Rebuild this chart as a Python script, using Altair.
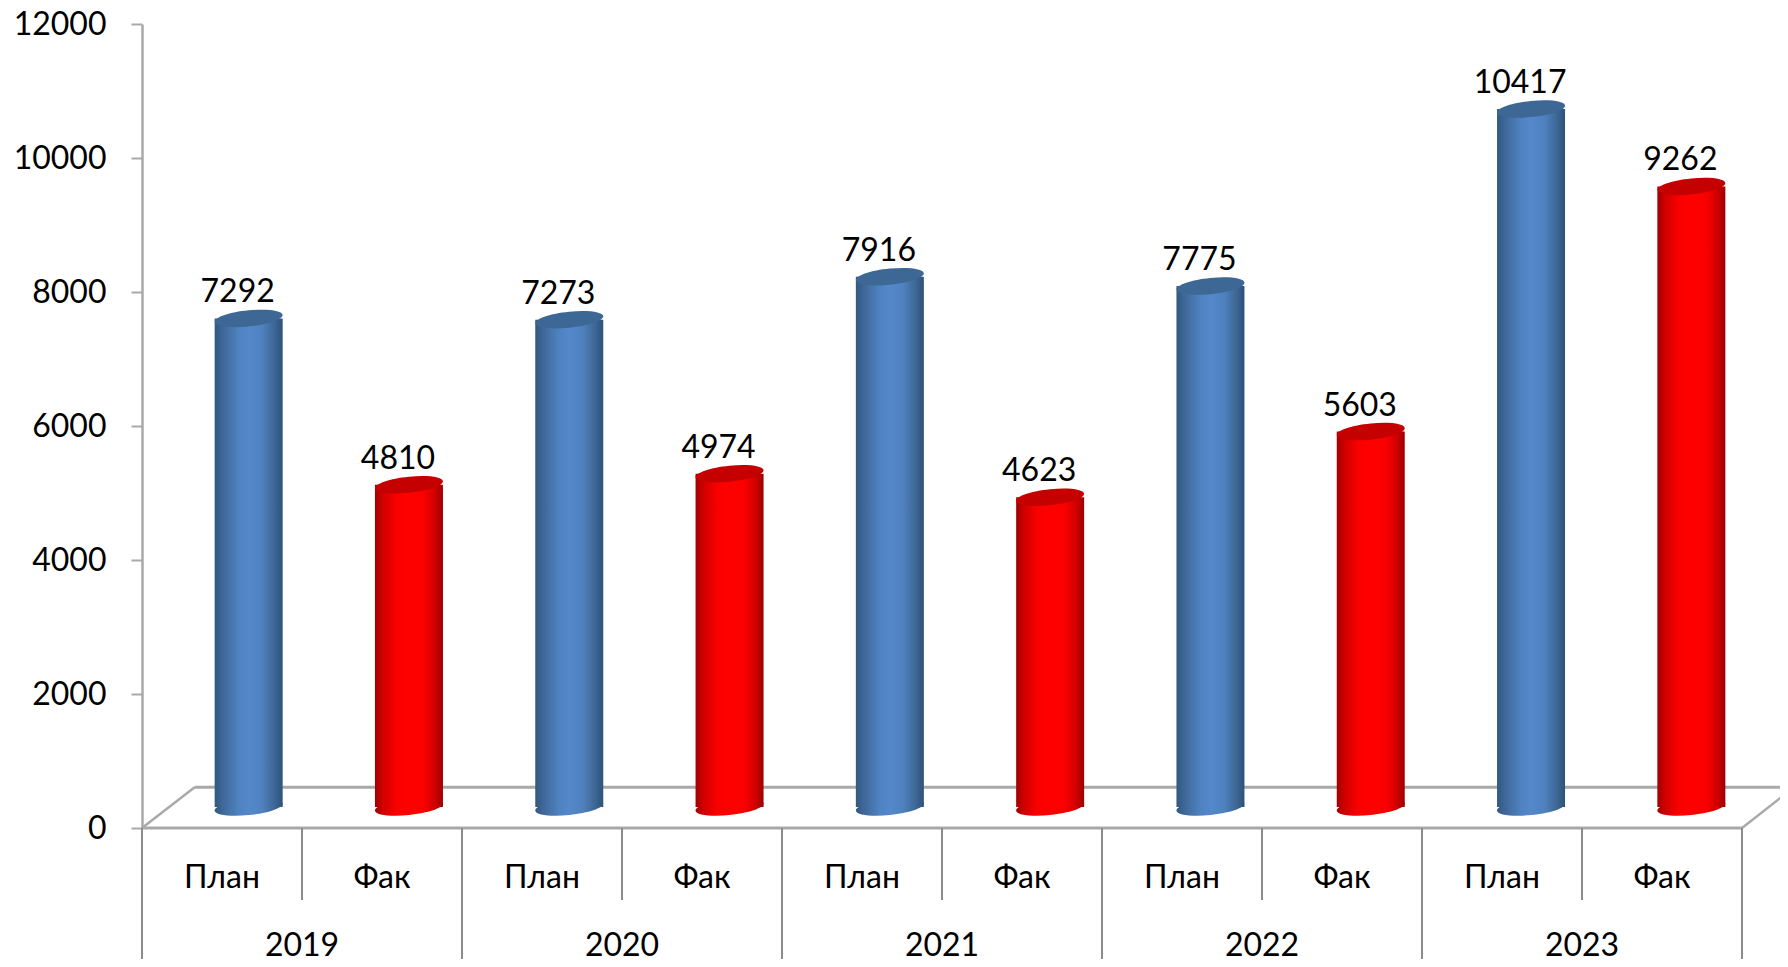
import altair as alt
import pandas as pd

years = ["2019", "2020", "2021", "2022", "2023"]
plan = [7292, 7273, 7916, 7775, 10417]
fact = [4810, 4974, 4623, 5603, 9262]
series_names = ["План", "Фак"]
y_ticks = [0, 2000, 4000, 6000, 8000, 10000, 12000]

FONT = "Lato"
FS = 32
AXIS_GREY = "#a9a9a9"
SEP_GREY = "#8c8c8c"
FLOOR_LIFT = -21      # bars stand on the perspective floor, above the axis line
LABEL_LIFT = -47
ELLIPSE = "M-1,0.1 A1,0.235 -6 1 1 1,-0.1 A1,0.235 -6 1 1 -1,0.1 Z"
BAR_W = 68

rows = []
for i, yr in enumerate(years):
    for j, (name, v) in enumerate(zip(series_names, (plan[i], fact[i]))):
        rows.append({"key": f"{yr}-{name}", "year": yr, "series": name, "value": v,
                     "slot": 2 * i + j + 0.5})
df = pd.DataFrame(rows)
keys = df["key"].tolist()

y_scale = alt.Scale(domain=[0, 12000], range=[804, 0], nice=False, zero=True)
bar_x = alt.X("key:N", sort=keys, axis=None,
              scale=alt.Scale(domain=keys, range=[26.5, 1629.5], paddingInner=0, paddingOuter=0))
slot_scale = alt.Scale(domain=[0, 10], range=[0, 1600], nice=False, zero=False)


def grad(stops):
    return alt.Gradient(gradient="linear", x1=0, x2=1, y1=0, y2=0,
                        stops=[alt.GradientStop(offset=o, color=c) for o, c in stops])


BLUE = grad([(0, "#32587f"), (0.12, "#3f6899"), (0.35, "#4f82c0"), (0.5, "#5388cb"),
             (0.7, "#4f81bf"), (0.88, "#3d6794"), (1, "#2e5179")])
RED = grad([(0, "#a00000"), (0.12, "#d20000"), (0.32, "#fa0000"), (0.5, "#ff0000"),
            (0.72, "#fa0000"), (0.88, "#d00000"), (1, "#9c0000")])

y_enc = alt.Y("value:Q", scale=y_scale, title=None,
              axis=alt.Axis(values=y_ticks, format="d", grid=False, domain=True, domainColor=AXIS_GREY,
                            domainWidth=2.5, ticks=True, tickColor=AXIS_GREY, tickWidth=2, tickSize=11,
                            labelFont=FONT, labelFontSize=FS, labelColor="#000000", labelPadding=25,
                            labelOverlap=False, labelFlush=False))
y_plain = alt.Y("value:Q", scale=y_scale, axis=None)

# perspective floor: back edge and two slanted sides, then the front edge
floor = [
    alt.Chart(pd.DataFrame({"v": [610]})).mark_rule(color=AXIS_GREY, strokeWidth=3).encode(
        x=alt.value(53), x2=alt.value(1646), y=alt.Y("v:Q", scale=y_scale, axis=None)),
    alt.Chart(pd.DataFrame({"v": [0]})).mark_rule(color=AXIS_GREY, strokeWidth=3).encode(
        x=alt.value(0), x2=alt.value(1600), y=alt.Y("v:Q", scale=y_scale, axis=None)),
    alt.Chart(pd.DataFrame({"a": [0]})).mark_rule(color=AXIS_GREY, strokeWidth=2.5).encode(
        x=alt.value(0), x2=alt.value(53), y=alt.value(804), y2=alt.value(763)),
    alt.Chart(pd.DataFrame({"a": [0]})).mark_rule(color=AXIS_GREY, strokeWidth=2.5).encode(
        x=alt.value(1600), x2=alt.value(1646), y=alt.value(804), y2=alt.value(768)),
]

# category axis separators and labels
short_pos = [1, 3, 5, 7, 9]
long_pos = [0, 2, 4, 6, 8, 10]
seps = [
    alt.Chart(pd.DataFrame({"p": short_pos})).mark_rule(color=SEP_GREY, strokeWidth=2).encode(
        x=alt.X("p:Q", scale=slot_scale, axis=None), y=alt.value(804), y2=alt.value(876)),
    alt.Chart(pd.DataFrame({"p": long_pos})).mark_rule(color=SEP_GREY, strokeWidth=2).encode(
        x=alt.X("p:Q", scale=slot_scale, axis=None), y=alt.value(804), y2=alt.value(960)),
]
cat_labels = alt.Chart(df).mark_text(font=FONT, fontSize=FS, color="#000000", baseline="middle").encode(
    x=alt.X("slot:Q", scale=slot_scale, axis=None), y=alt.value(854), text="series:N")
year_df = pd.DataFrame({"year": years, "p": short_pos})
year_labels = alt.Chart(year_df).mark_text(font=FONT, fontSize=FS, color="#000000", baseline="middle").encode(
    x=alt.X("p:Q", scale=slot_scale, axis=None), y=alt.value(922), text="year:N")

cyl = []
for name, body, top in ((series_names[0], BLUE, "#3d6794"), (series_names[1], RED, "#c40000")):
    sub = df[df["series"] == name]
    base_df = sub.assign(zero=0)
    cyl.append(alt.Chart(base_df).mark_point(shape=ELLIPSE, size=BAR_W ** 2, filled=True, fill=body,
                                             opacity=1, strokeWidth=0, yOffset=FLOOR_LIFT).encode(
        x=bar_x, y=alt.Y("zero:Q", scale=y_scale, axis=None)))
    cyl.append(alt.Chart(base_df).mark_bar(width=BAR_W, fill=body, yOffset=FLOOR_LIFT, y2Offset=FLOOR_LIFT,
                                           strokeWidth=0).encode(
        x=bar_x, y=y_plain, y2=alt.Y2("zero:Q")))
    cyl.append(alt.Chart(base_df).mark_point(shape=ELLIPSE, size=BAR_W ** 2, filled=True, fill=top,
                                             opacity=1, strokeWidth=0, yOffset=FLOOR_LIFT).encode(
        x=bar_x, y=y_plain))

data_labels = alt.Chart(df).mark_text(font=FONT, fontSize=FS, color="#000000", baseline="middle",
                                      xOffset=-11, yOffset=LABEL_LIFT).encode(
    x=bar_x, y=y_plain, text=alt.Text("value:Q", format="d"))

# invisible carrier of the value axis
axis_layer = alt.Chart(df).mark_point(opacity=0).encode(y=y_enc)

chart = alt.layer(
    axis_layer, *floor, *seps, cat_labels, year_labels, *cyl, data_labels
).resolve_scale(x="independent").resolve_axis(y="independent").properties(
    width=1600, height=804, background="#ffffff",
    autosize=alt.AutoSizeParams(type="none"),
    padding={"left": 134, "top": 16, "right": 38, "bottom": 131},
).configure_view(stroke=None)

chart.save("out.html", embed_options={"renderer": "svg", "actions": False})
